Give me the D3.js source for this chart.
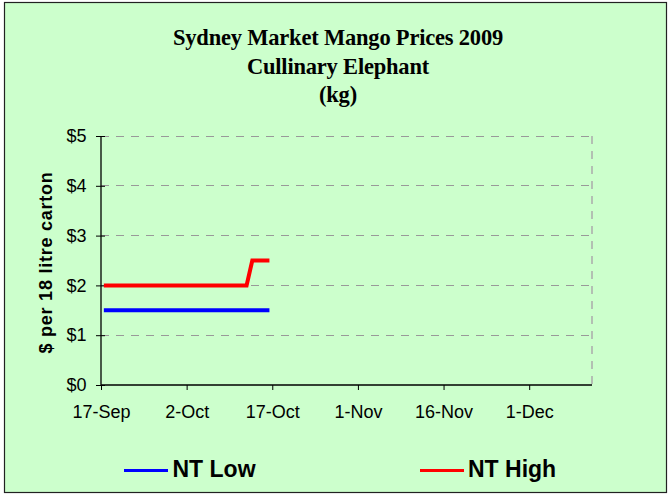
<!DOCTYPE html>
<html><head><meta charset="utf-8">
<script src="https://cdn.jsdelivr.net/npm/d3@7"></script>
<style>body{margin:0;background:#fff}svg{display:block}</style>
</head><body>
<svg id="c" width="669" height="495"></svg>
<script>
const titleLines = ["Sydney Market Mango Prices 2009", "Cullinary Elephant", "(kg)"];
const yLabel = "$ per 18 litre carton";
const dates = ["2009-09-17", "2009-10-12", "2009-10-13", "2009-10-14", "2009-10-16"];
const ntLow = [1.5, 1.5, 1.5, 1.5, 1.5];
const ntHigh = [2.0, 2.0, 2.5, 2.5, 2.5];
const seriesNames = ["NT Low", "NT High"];
const seriesColors = ["#0000FF", "#FF0000"];
const xTickDates = ["2009-09-17", "2009-10-02", "2009-10-17", "2009-11-01", "2009-11-16", "2009-12-01"];
const xDomain = ["2009-09-17", "2009-12-12"];
const yTicks = [0, 1, 2, 3, 4, 5];

const parse = d3.utcParse("%Y-%m-%d");
const fmt = d3.utcFormat("%-d-%b");
const svg = d3.select("#c");
const SANS = "Liberation Sans, Arial, sans-serif";

svg.append("rect").attr("x", 4.5).attr("y", 2.5).attr("width", 662).attr("height", 490)
  .attr("fill", "#CCFFCC").attr("stroke", "#222").attr("stroke-width", 1.2);

const L = 101, R = 592, T = 136, B = 385;
const x = d3.scaleUtc().domain(xDomain.map(parse)).range([L, R]);
const y = d3.scaleLinear().domain([0, 5]).range([B, T]);
// points sit in the middle of their day (Excel date axis, "between tick marks")
const xMid = d => x(d3.utcHour.offset(d, 12));

// title
const tg = svg.append("g").attr("font-family", "Liberation Serif, Times New Roman, serif")
  .attr("font-weight", "bold").attr("font-size", 22.5).attr("fill", "#000").attr("text-anchor", "middle");
[45, 74, 102].forEach((yy, i) => tg.append("text").attr("x", 338).attr("y", yy)
  .attr("letter-spacing", -0.2).text(titleLines[i]));

// gridlines
svg.append("g").selectAll("line").data(yTicks.filter(d => d > 0)).join("line")
  .attr("x1", L).attr("x2", R).attr("y1", d => y(d)).attr("y2", d => y(d))
  .attr("stroke", "#999").attr("stroke-width", 1).attr("stroke-dasharray", "8,7")
  .attr("shape-rendering", "crispEdges");
// right border dashed
svg.append("line").attr("x1", R).attr("x2", R).attr("y1", T).attr("y2", B)
  .attr("stroke", "#aaa").attr("stroke-width", 1.5).attr("stroke-dasharray", "8,7");

// axes
const yAxis = d3.axisLeft(y).tickValues(yTicks).tickFormat(d => "$" + d).tickSize(5).tickPadding(9.5);
const yg = svg.append("g").attr("transform", `translate(${L},0)`).call(yAxis);
const xAxis = d3.axisBottom(x).tickValues(xTickDates.map(parse)).tickFormat(fmt).tickSize(5).tickPadding(15);
const xg = svg.append("g").attr("transform", `translate(0,${B})`).call(xAxis);
[yg, xg].forEach(g => {
  g.select(".domain").attr("stroke", "#000").attr("stroke-width", 1.3);
  g.selectAll(".tick line").attr("stroke", "#000");
  g.selectAll(".tick text").attr("font-family", SANS).attr("font-size", 18).attr("fill", "#000");
});
yg.selectAll(".tick line").attr("x1", 4);
xg.select(".domain").attr("d", `M${L},0H${R}`);
yg.select(".domain").attr("d", `M0,${B}V${T}`);

// y label
svg.append("text").attr("transform", `translate(52,${(T + B) / 2 + 2}) rotate(-90)`)
  .attr("text-anchor", "middle").attr("font-family", SANS).attr("letter-spacing", 0.75)
  .attr("font-weight", "bold").attr("font-size", 18).text(yLabel);

// lines
const pts = dates.map(parse);
const line = d3.line().x(d => xMid(d[0])).y(d => y(d[1]));
[ntLow, ntHigh].forEach((vals, i) => {
  svg.append("path").datum(pts.map((p, j) => [p, vals[j]])).attr("d", line)
    .attr("fill", "none").attr("stroke", seriesColors[i]).attr("stroke-width", 4);
});

// legend
const lg = svg.append("g");
[[124, 172.5], [420, 468]].forEach((p, i) => {
  lg.append("line").attr("x1", p[0]).attr("x2", p[0] + 44).attr("y1", 470.5).attr("y2", 470.5)
    .attr("stroke", seriesColors[i]).attr("stroke-width", 3);
  lg.append("text").attr("x", p[1]).attr("y", 477).attr("font-family", SANS)
    .attr("font-weight", "bold").attr("font-size", 23).text(seriesNames[i]);
});
</script>
</body></html>
